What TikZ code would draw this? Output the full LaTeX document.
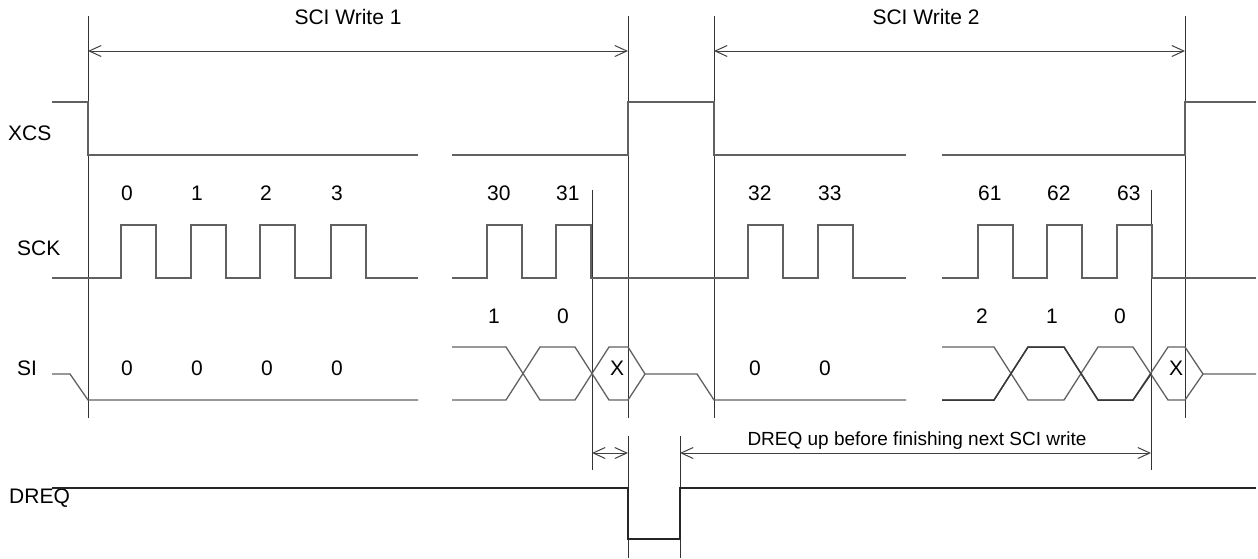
\documentclass[tikz,border=0pt]{standalone}
\usepackage{fontspec}
\setmainfont{Liberation Sans}
\usetikzlibrary{arrows.meta}

\begin{document}
\begin{tikzpicture}[x=1pt, y=-1pt,
    wave/.style={draw=black!62, line width=1.3pt},
    bold wave/.style={draw=black!78, line width=1.5pt},
    vline/.style={draw=black!80, line width=1pt},
    dim/.style={draw=black!75, line width=1pt, {Straight Barb[length=12pt,width=11pt]}-{Straight Barb[length=12pt,width=11pt]}},
    lbl/.style={font=\fontsize{21}{25}\selectfont, inner sep=0pt},
    sig/.style={lbl, anchor=west}]
  \useasboundingbox (0,0) rectangle (1258,558);

  % signal names
  \node [sig] (xcs) at (8,133) {XCS};
  \node [sig] (sck) at (17,248) {SCK};
  \node [sig] (si) at (17,368) {SI};
  \node [sig] (dreq) at (9,498) {DREQ};

  % vertical markers
  \draw[vline] (88,16) -- (88,418);
  \draw[vline] (628,16) -- (628,418);
  \draw[vline] (628,436) -- (628,558);
  \draw[vline] (714,16) -- (714,418);
  \draw[vline] (1185,16) -- (1185,418);
  \draw[vline] (592,190) -- (592,470);
  \draw[vline] (1151,190) -- (1151,470);
  \draw[vline] (680,436) -- (680,558);

  % end points of the dimension lines
  \coordinate (w1a) at (88,51);
  \coordinate (w1b) at (628,51);
  \coordinate (w2a) at (714,51);
  \coordinate (w2b) at (1185,51);
  \coordinate (d1a) at (592,453);
  \coordinate (d1b) at (628,453);
  \coordinate (d2a) at (680,453);
  \coordinate (d2b) at (1151,453);

  \draw[dim] (w1a) -- (w1b);
  \draw[dim] (w2a) -- (w2b);
  \draw[dim] (d1a) -- (d1b);
  \draw[dim] (d2a) -- (d2b);

  \node [lbl] (write1) at (348,17) {SCI Write 1};
  \node [lbl] (write2) at (926,17) {SCI Write 2};
  \node [lbl, font=\fontsize{19}{23}\selectfont] (drequp) at (917,441) {DREQ up before finishing next SCI write};

  % XCS
  \draw[wave] (52,102) -- (88,102) -- (88,155) -- (418,155);
  \draw[wave] (452,155) -- (628,155) -- (628,102) -- (714,102) -- (714,155) -- (906,155);
  \draw[wave] (942,155) -- (1185,155) -- (1185,102) -- (1256,102);

  % SCK
  \draw[wave] (52,278) \foreach \x in {121,191,260,331} {-- (\x,278) -- (\x,225) -- (\x+35,225) -- (\x+35,278)} -- (418,278);
  \draw[wave] (452,278) \foreach \x in {487,556,748,818} {-- (\x,278) -- (\x,225) -- (\x+35,225) -- (\x+35,278)} -- (906,278);
  \draw[wave] (942,278) \foreach \x in {978,1047,1117} {-- (\x,278) -- (\x,225) -- (\x+35,225) -- (\x+35,278)} -- (1256,278);

  \foreach \x/\n in {121/0,191/1,260/2,331/3,487/30,556/31,748/32,818/33,978/61,1047/62,1117/63}
    \node [lbl, anchor=west] (clk\n) at (\x,193) {\n};

  % SI
  \draw[wave] (52,374) -- (70,374) -- (88,400) -- (418,400);
  \draw[wave] (452,347) -- (506,347) -- (540,400) -- (575,400) -- (609,347) -- (628,347) -- (645,374) -- (697,374) -- (714,400) -- (906,400);
  \draw[wave] (452,400) -- (506,400) -- (540,347) -- (575,347) -- (609,400) -- (628,400) -- (645,374);
  \draw[wave] (942,347) -- (994,347) -- (1028,400) -- (1064,400) -- (1098,347) -- (1133,347) -- (1168,400) -- (1185,400) -- (1203,374) -- (1256,374);
  \draw[wave] (942,400) -- (994,400) -- (1028,347) -- (1064,347) -- (1098,400) -- (1133,400) -- (1168,347) -- (1185,347) -- (1203,374);
  \draw[bold wave] (942,400) -- (994,400) -- (1028,347) -- (1064,347) -- (1098,400) -- (1133,400) -- (1151,374);

  \foreach \x [count=\i] in {127,197,267,337,755,825}
    \node [lbl] (bit\i) at (\x,368) {0};
  \node [lbl] (xa) at (617,368) {X};
  \node [lbl] (xb) at (1176,368) {X};

  \node [lbl] (b31) at (494,316) {1};
  \node [lbl] (b30) at (563,316) {0};
  \node [lbl] (b62) at (982,316) {2};
  \node [lbl] (b61) at (1052,316) {1};
  \node [lbl] (b60) at (1120,316) {0};

  % DREQ
  \draw[wave, draw=black!85] (52,488) -- (628,488) -- (628,539) -- (680,539) -- (680,488) -- (1256,488);
\end{tikzpicture}
\end{document}
